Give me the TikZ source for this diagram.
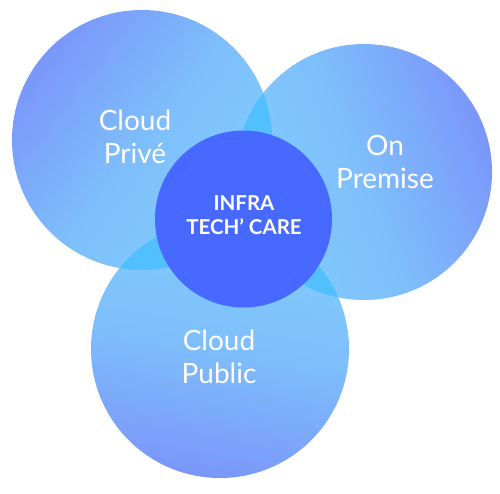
\documentclass[tikz,border=0pt]{standalone}
\usepackage{fontspec}
\setmainfont{Lato}
\definecolor{cdark}{HTML}{7A97F9}
\definecolor{clight}{HTML}{80CEFD}
\definecolor{cover}{HTML}{52BFFF}
\definecolor{ccore}{HTML}{4769FF}
\tikzset{
  outerlabel/.style={text=white, align=center, font=\fontsize{28}{33}\selectfont},
  corelabel/.style={text=white, align=center, font=\fontsize{20.5}{24}\selectfont\bfseries},
}
\begin{document}
\begin{tikzpicture}[x=1pt,y=-1pt]
\useasboundingbox (0,0) rectangle (500,493);
% outer circles
\shade[top color=cdark, bottom color=clight, middle color=clight!70!cdark, shading angle=52] (142,140) circle[radius=130];
\shade[top color=cdark, bottom color=clight, middle color=clight!70!cdark, shading angle=-69] (364,172) circle[radius=128];
\shade[top color=cdark, bottom color=clight, middle color=clight!70!cdark, shading angle=170] (220,349) circle[radius=129];
% overlaps
\begin{scope}
  \clip (142,140) circle[radius=130];
  \fill[cover] (364,172) circle[radius=128];
  \fill[cover] (220,349) circle[radius=129];
\end{scope}
\begin{scope}
  \clip (364,172) circle[radius=128];
  \fill[cover] (220,349) circle[radius=129];
\end{scope}
% core
\node[circle, fill=ccore, minimum size=177pt, inner sep=0pt] (core) at (243.5,219) {};
\node[corelabel] (coretext) at (244,215) {INFRA\\TECH’ CARE};
\node[outerlabel] (prive) at (135,137) {Cloud\\Privé};
\node[outerlabel] (onprem) at (385,162) {On\\Premise};
\node[outerlabel] (public) at (219,357) {Cloud\\Public};
\end{tikzpicture}
\end{document}
